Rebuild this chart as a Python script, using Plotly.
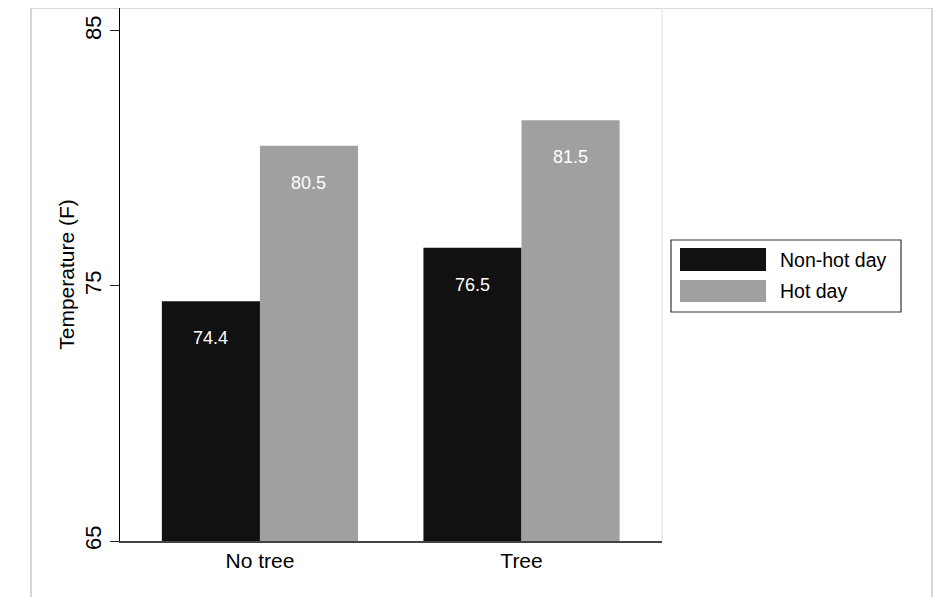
import plotly.graph_objects as go

categories = ["No tree", "Tree"]
series_names = ["Non-hot day", "Hot day"]
non_hot = [74.4, 76.5]
hot = [80.5, 81.5]
y_ticks = [65, 75, 85]
y_title = "Temperature (F)"

colors = ["#111111", "#a0a0a0"]
FONT = "Liberation Sans, Arial, sans-serif"

W, H = 948, 597
OFF = 8  # page body margin offset
L, R, T, B = 120 - OFF, 662 - OFF, 8 - OFF, 541 - OFF


def px(x):
    # screen x -> paper
    return (x - OFF - L) / (R - L)


def py(y):
    # screen y -> paper
    return (B - (y - OFF)) / (B - T)


fig = go.Figure()
for name, vals, col in zip(series_names, [non_hot, hot], colors):
    fig.add_trace(go.Bar(
        x=categories, y=vals, name=name,
        marker=dict(color=col, line=dict(width=0)),
        showlegend=False, hoverinfo="skip",
    ))

# value labels inside bars, near the top
n = len(series_names)
bw = 0.75 / n
for si, vals in enumerate([non_hot, hot]):
    for ci, v in enumerate(vals):
        xo = ci - 0.375 + bw * (si + 0.5)
        fig.add_annotation(
            x=xo, y=v, xref="x", yref="y", text=f"{v:.1f}",
            showarrow=False, yshift=-37,
            font=dict(family=FONT, size=18, color="white"),
        )

shapes = []
# outer light border
shapes.append(dict(type="rect", xref="paper", yref="paper",
                   x0=px(31), x1=px(932), y0=py(620), y1=py(8),
                   line=dict(color="#c9c9c9", width=1.5), layer="below"))
# faint right edge of plot area
shapes.append(dict(type="line", xref="paper", yref="paper",
                   x0=1, x1=1, y0=0, y1=1,
                   line=dict(color="#e4eaee", width=1.5)))

# custom legend
shapes.append(dict(type="rect", xref="paper", yref="paper",
                   x0=px(671), x1=px(901), y0=py(312), y1=py(240),
                   line=dict(color="#333333", width=1.2), fillcolor="white"))
leg_rows = [(248, 271), (280, 302)]
for (y0, y1), col, name in zip(leg_rows, colors, series_names):
    shapes.append(dict(type="rect", xref="paper", yref="paper",
                       x0=px(680), x1=px(766), y0=py(y1), y1=py(y0),
                       line=dict(width=0), fillcolor=col))
    fig.add_annotation(x=px(778), y=py((y0 + y1) / 2), xref="paper", yref="paper",
                       text=name, showarrow=False, xanchor="left", yanchor="middle",
                       font=dict(family=FONT, size=19.5, color="black"))

fig.update_layout(
    width=W, height=H,
    margin=dict(l=L, r=W - R, t=T, b=H - B, pad=0),
    paper_bgcolor="white", plot_bgcolor="white",
    barmode="group", bargap=0.25, bargroupgap=0,
    font=dict(family=FONT, size=21, color="black"),
    shapes=shapes,
    xaxis=dict(
        type="category", range=[-0.535, 1.537],
        showline=True, linecolor="#444444", linewidth=2,
        ticks="", showgrid=False, zeroline=False,
        tickfont=dict(family=FONT, size=21, color="black"),
    ),
    yaxis=dict(
        range=[65, 85.9], tickvals=y_ticks, ticktext=[str(t) for t in y_ticks],
        tickangle=-90, ticks="outside", ticklen=9, tickcolor="#222222", tickwidth=1.2,
        showline=True, linecolor="black", linewidth=1.2,
        showgrid=False, zeroline=False,
        tickfont=dict(family=FONT, size=22, color="black"),
        title=dict(text=y_title, font=dict(family=FONT, size=21, color="black"), standoff=0),
    ),
)

fig.write_html("out.html")
